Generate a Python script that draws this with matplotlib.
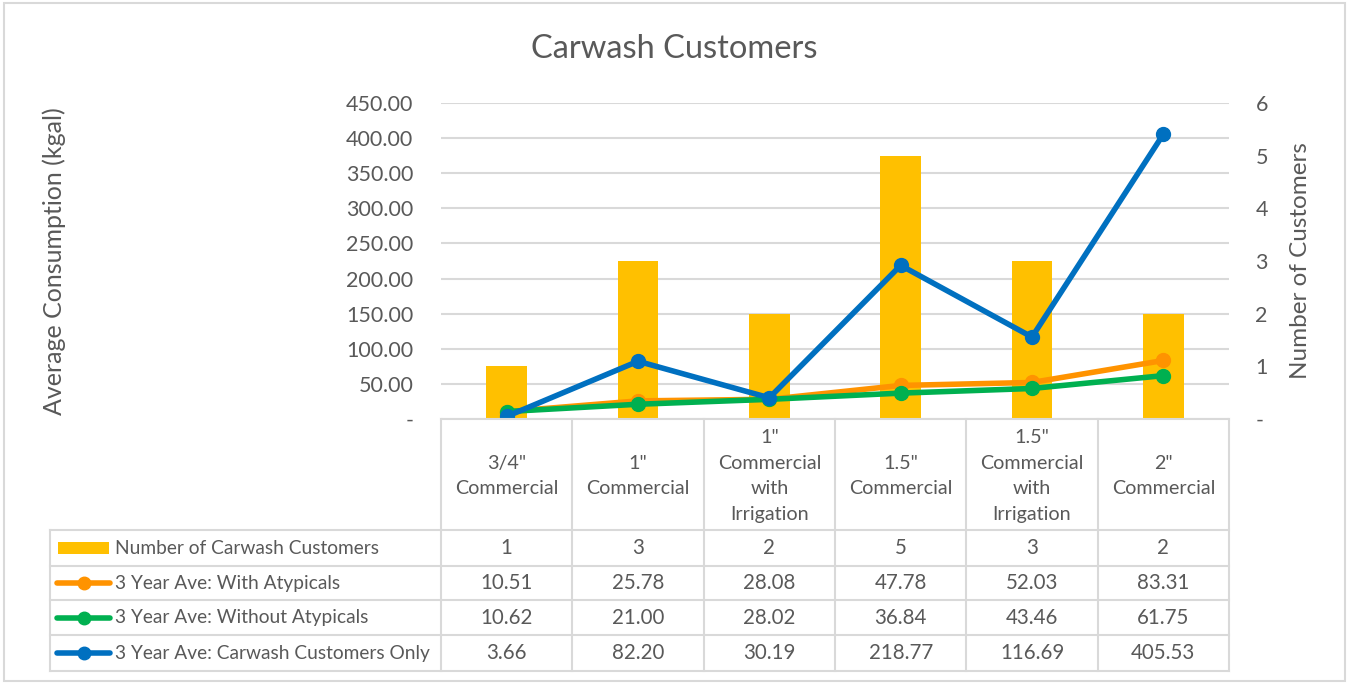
import numpy as np
import matplotlib.pyplot as plt
from matplotlib.lines import Line2D
from matplotlib.patches import Rectangle
from matplotlib.transforms import blended_transform_factory
from matplotlib.ticker import FuncFormatter

plt.rcParams['font.family'] = ['Lato', 'DejaVu Sans']

# data
categories = ['3/4"\nCommercial', '1"\nCommercial', '1"\nCommercial\nwith\nIrrigation',
              '1.5"\nCommercial', '1.5"\nCommercial\nwith\nIrrigation', '2"\nCommercial']
customers = [1, 3, 2, 5, 3, 2]
with_atyp = [10.51, 25.78, 28.08, 47.78, 52.03, 83.31]
without_atyp = [10.62, 21.00, 28.02, 36.84, 43.46, 61.75]
carwash_only = [3.66, 82.20, 30.19, 218.77, 116.69, 405.53]

series_names = ['Number of Carwash Customers', '3 Year Ave: With Atypicals',
                '3 Year Ave: Without Atypicals', '3 Year Ave: Carwash Customers Only']

BAR = '#FFC000'
ORANGE = '#FF9300'
GREEN = '#00B050'
BLUE = '#0070C0'
TXT = '#595959'
GRID = '#D9D9D9'

W, H = 1348, 683
fig = plt.figure(figsize=(W / 100, H / 100), dpi=100)


def fx(px):
    return px / W


def fy(py):
    return 1 - py / H


left, right, top, bottom = 441, 1229, 103, 419
ax = fig.add_axes([fx(left), fy(bottom), fx(right) - fx(left), fy(top) - fy(bottom)])
ax_bar = ax.twinx()
ax_line = ax.twinx()

x = np.arange(len(categories))

# gridlines + left scale on the base axes
ax.set_ylim(0, 450)
ax.set_yticks(np.arange(0, 451, 50))
ax.yaxis.set_major_formatter(FuncFormatter(lambda v, p: '-' if v == 0 else f'{v:.2f}'))
ax.grid(axis='y', color=GRID, lw=1.5)
ax.set_xlim(-0.5, len(categories) - 0.5)
ax.set_xticks([])
ax.tick_params(axis='y', length=0, pad=20, labelsize=15.5, labelcolor=TXT)
ax.set_ylabel('Average Consumption (kgal)', fontsize=18, color=TXT)

# bars on secondary axis
ax_bar.bar(x, customers, width=0.31, color=BAR, zorder=2)
ax_bar.set_ylim(0, 6)
ax_bar.set_yticks(range(0, 7))
ax_bar.yaxis.set_major_formatter(FuncFormatter(lambda v, p: '-' if v == 0 else f'{int(v)}'))
ax_bar.tick_params(axis='y', length=0, pad=19, labelsize=15.5, labelcolor=TXT)
ax_bar.set_ylabel('Number of Customers', fontsize=17.5, color=TXT)

# lines on a third axes sharing the primary scale
ax_line.set_ylim(0, 450)
ax_line.set_yticks([])
for vals, col in [(with_atyp, ORANGE), (without_atyp, GREEN), (carwash_only, BLUE)]:
    ax_line.plot(x, vals, color=col, lw=4, marker='o', ms=10, solid_capstyle='round')

for a in (ax, ax_bar, ax_line):
    for s in a.spines.values():
        s.set_visible(False)

ax.yaxis.set_label_coords((66 - left) / (right - left), 0.5)
ax_bar.yaxis.set_label_coords((1290 - left) / (right - left), 0.5)

fig.text(0.5, fy(49), 'Carwash Customers', ha='center', va='center', fontsize=23.5, color=TXT)

# data table under the chart
tx = blended_transform_factory(ax.transData, fig.transFigure)
row_lines = [530, 566, 600, 635, 671]
tab_left = 50
for i in range(len(categories) + 1):
    xb = i - 0.5
    fig.add_artist(Line2D([xb, xb], [fy(bottom), fy(row_lines[-1])], transform=tx, color=GRID, lw=1.5))
fig.add_artist(Line2D([fx(left), fx(right)], [fy(bottom)] * 2, color=GRID, lw=1.5))
fig.add_artist(Line2D([fx(tab_left)] * 2, [fy(row_lines[0]), fy(row_lines[-1])], color=GRID, lw=1.5))
for ry in row_lines:
    fig.add_artist(Line2D([fx(tab_left), fx(right)], [fy(ry)] * 2, color=GRID, lw=1.5))

for i, c in enumerate(categories):
    fig.text(x[i], fy(476), c, transform=tx, ha='center', va='center', fontsize=14.2,
             color=TXT, linespacing=1.6)

rows = [[str(v) for v in customers],
        [f'{v:.2f}' for v in with_atyp],
        [f'{v:.2f}' for v in without_atyp],
        [f'{v:.2f}' for v in carwash_only]]
key_colors = [BAR, ORANGE, GREEN, BLUE]
for r, (name, vals, kc) in enumerate(zip(series_names, rows, key_colors)):
    yc = fy((row_lines[r] + row_lines[r + 1]) / 2)
    for i, v in enumerate(vals):
        fig.text(x[i], yc, v, transform=tx, ha='center', va='center', fontsize=14.8, color=TXT)
    fig.text(fx(115), yc, name, ha='left', va='center', fontsize=13.8, color=TXT)
    if r == 0:
        fig.add_artist(Rectangle((fx(58), yc - 6 / H), fx(109) - fx(58), 12 / H, color=kc, lw=0))
    else:
        fig.add_artist(Line2D([fx(57), fx(110)], [yc, yc], color=kc, lw=4, solid_capstyle='round'))
        fig.add_artist(Line2D([fx(84)], [yc], color=kc, marker='o', ms=9))

# chart border
fig.add_artist(Rectangle((fx(4), fy(681)), fx(1345) - fx(4), fy(3) - fy(681),
                         fill=False, edgecolor=GRID, lw=1.5))

fig.savefig('out.png', dpi=100)
